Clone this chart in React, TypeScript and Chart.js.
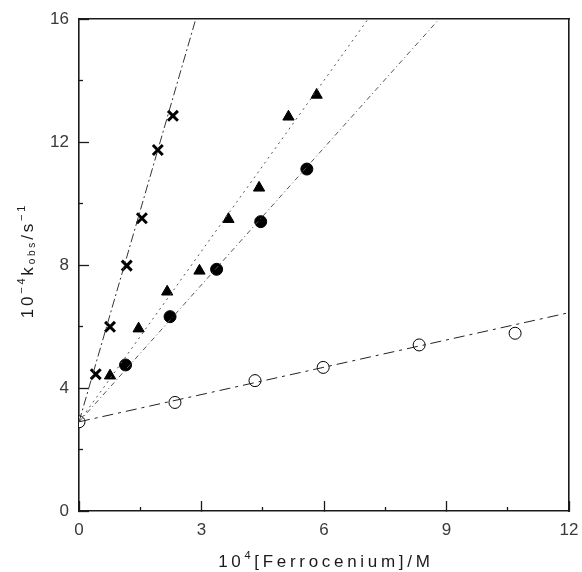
import React, { useEffect, useRef } from 'react';
import { Chart, registerables } from 'chart.js';
Chart.register(...registerables);

// ---- data ----
const crossX = [0.41, 0.76, 1.17, 1.54, 1.93, 2.3];
const crossY = [4.45, 5.99, 7.98, 9.52, 11.74, 12.85];
const triX = [0.76, 1.46, 2.16, 2.95, 3.66, 4.41, 5.13, 5.82];
const triY = [4.4, 5.93, 7.13, 7.81, 9.49, 10.51, 12.82, 13.53];
const dotX = [1.14, 2.23, 3.37, 4.45, 5.58];
const dotY = [4.75, 6.32, 7.86, 9.41, 11.12];
const openX = [0, 2.35, 4.31, 5.98, 8.33, 10.68];
const openY = [2.9, 3.53, 4.24, 4.67, 5.4, 5.78];

// fitted straight lines (end points)
const crossFitX = [0, 2.86];
const crossFitY = [2.9, 16];
const triFitX = [0, 7.08];
const triFitY = [2.9, 16];
const dotFitX = [0, 8.82];
const dotFitY = [2.9, 16];
const openFitX = [0, 12];
const openFitY = [2.9, 6.45];

// axes
const xMin = 0, xMax = 12, xStep = 3;
const yMin = 0, yMax = 16, yStep = 4;
const xMinorTicks = [1.5, 4.5, 7.5, 10.5];
const yMinorTicks = [2, 6, 10, 14];

const FONT = '"Liberation Sans", Arial, sans-serif';
const INK = '#1a1a1a';

const pts = (xs: number[], ys: number[]) => xs.map((x, i) => ({ x, y: ys[i] }));

type Part = { t: string; s: number; dy: number };

function drawRich(ctx: CanvasRenderingContext2D, parts: Part[], cx: number, cy: number, spacing: number) {
  let total = 0;
  const widths: number[][] = [];
  parts.forEach((p) => {
    ctx.font = `${p.s}px ${FONT}`;
    const w = Array.from(p.t).map((ch) => ctx.measureText(ch).width);
    widths.push(w);
    w.forEach((v) => (total += v + spacing));
  });
  total -= spacing;
  let x = cx - total / 2;
  ctx.textBaseline = 'middle';
  ctx.textAlign = 'left';
  parts.forEach((p, i) => {
    ctx.font = `${p.s}px ${FONT}`;
    Array.from(p.t).forEach((ch, j) => {
      ctx.fillText(ch, x, cy + p.dy);
      x += widths[i][j] + spacing;
    });
  });
}

const titlePlugin = {
  id: 'axisTitles',
  afterDraw(chart: any) {
    const ctx: CanvasRenderingContext2D = chart.ctx;
    const a = chart.chartArea;
    ctx.save();
    ctx.fillStyle = INK;
    drawRich(ctx, [
      { t: '10', s: 17, dy: 0 },
      { t: '4', s: 11, dy: -6 },
      { t: '[Ferrocenium]/M', s: 17, dy: 0 },
    ], (a.left + a.right) / 2, 562, 3.7);
    ctx.translate(28, 262);
    ctx.rotate(-Math.PI / 2);
    drawRich(ctx, [
      { t: '10', s: 17, dy: 0 },
      { t: '−4', s: 11, dy: -6 },
      { t: 'k', s: 17, dy: 0 },
      { t: 'obs', s: 10, dy: 4 },
      { t: '/s', s: 17, dy: 0 },
      { t: '−1', s: 11, dy: -6 },
    ], 0, 0, 2.8);
    ctx.restore();
  },
};

export default function App() {
  const ref = useRef<HTMLCanvasElement>(null);
  useEffect(() => {
    if (!ref.current) return;
    const lineDs = (xs: number[], ys: number[], dash: number[], color: string) => ({
      data: pts(xs, ys),
      showLine: true,
      borderColor: color,
      borderWidth: 1,
      borderDash: dash,
      pointRadius: 0,
      fill: false,
    });
    const border = { display: true, color: INK, width: 1.6 };
    const noBorder = { display: false };
    const tickFont = { family: FONT, size: 17 };
    const chart = new Chart(ref.current, {
      type: 'scatter',
      data: {
        datasets: [
          lineDs(crossFitX, crossFitY, [9, 3, 2, 3], '#333'),
          lineDs(triFitX, triFitY, [2, 4], '#555'),
          lineDs(dotFitX, dotFitY, [5, 3, 1, 3], '#555'),
          lineDs(openFitX, openFitY, [11, 5, 3, 5], '#222'),
          {
            data: pts(crossX, crossY), pointStyle: 'crossRot', pointRadius: 7,
            borderColor: '#000', borderWidth: 3, backgroundColor: '#000', showLine: false,
          },
          {
            data: pts(triX, triY), pointStyle: 'triangle', pointRadius: 6.5,
            borderColor: '#000', borderWidth: 1, backgroundColor: '#000', showLine: false,
          },
          {
            data: pts(dotX, dotY), pointStyle: 'circle', pointRadius: 6,
            borderColor: '#000', borderWidth: 1, backgroundColor: '#000', showLine: false,
          },
          {
            data: pts(openX, openY), pointStyle: 'circle', pointRadius: 6,
            borderColor: '#000', borderWidth: 1, backgroundColor: '#fff', showLine: false,
          },
        ],
      },
      options: {
        animation: false,
        responsive: false,
        maintainAspectRatio: false,
        layout: { padding: { left: 0, right: 13, top: 19, bottom: 0 } },
        plugins: { legend: { display: false }, tooltip: { enabled: false } },
        scales: {
          x: {
            type: 'linear', position: 'bottom', weight: 10, min: xMin, max: xMax,
            ticks: { stepSize: xStep, color: '#3a3a3a', padding: 19, font: tickFont },
            grid: { display: true, drawOnChartArea: false, drawTicks: true, tickLength: -10, tickColor: INK, tickWidth: 1.3 },
            border,
            afterFit: (s: any) => { s.height = 61; s.paddingLeft = 0; s.paddingRight = 0; },
          },
          xMinor: {
            type: 'linear', position: 'bottom', weight: 0, min: xMin, max: xMax,
            ticks: { display: false },
            afterBuildTicks: (s: any) => { s.ticks = xMinorTicks.map((v) => ({ value: v })); },
            grid: { display: true, drawOnChartArea: false, drawTicks: true, tickLength: -4, tickColor: INK, tickWidth: 1.3 },
            border: noBorder,
            afterFit: (s: any) => { s.height = 0; s.paddingLeft = 0; s.paddingRight = 0; },
          },
          xTop: {
            type: 'linear', position: 'top', min: xMin, max: xMax,
            ticks: { display: false },
            grid: { display: false, drawTicks: false },
            border,
            afterFit: (s: any) => { s.height = 0; s.paddingLeft = 0; s.paddingRight = 0; },
          },
          y: {
            type: 'linear', position: 'left', weight: 10, min: yMin, max: yMax,
            ticks: { stepSize: yStep, color: '#3a3a3a', padding: 20, font: tickFont },
            grid: { display: true, drawOnChartArea: false, drawTicks: true, tickLength: -10, tickColor: INK, tickWidth: 1.3 },
            border,
            afterFit: (s: any) => { s.width = 79; s.paddingTop = 0; s.paddingBottom = 0; },
          },
          yMinor: {
            type: 'linear', position: 'left', weight: 0, min: yMin, max: yMax,
            ticks: { display: false },
            afterBuildTicks: (s: any) => { s.ticks = yMinorTicks.map((v) => ({ value: v })); },
            grid: { display: true, drawOnChartArea: false, drawTicks: true, tickLength: -4, tickColor: INK, tickWidth: 1.3 },
            border: noBorder,
            afterFit: (s: any) => { s.width = 0; s.paddingTop = 0; s.paddingBottom = 0; },
          },
          yRight: {
            type: 'linear', position: 'right', min: yMin, max: yMax,
            ticks: { display: false },
            grid: { display: false, drawTicks: false },
            border,
            afterFit: (s: any) => { s.width = 0; s.paddingTop = 0; s.paddingBottom = 0; },
          },
        },
      },
      plugins: [titlePlugin],
    } as any);
    return () => chart.destroy();
  }, []);
  return (
    <div style={{ position: 'fixed', left: 0, top: 0, width: 582, height: 572, background: '#fff' }}>
      <canvas ref={ref} width={582} height={572} style={{ width: 582, height: 572 }} />
    </div>
  );
}
